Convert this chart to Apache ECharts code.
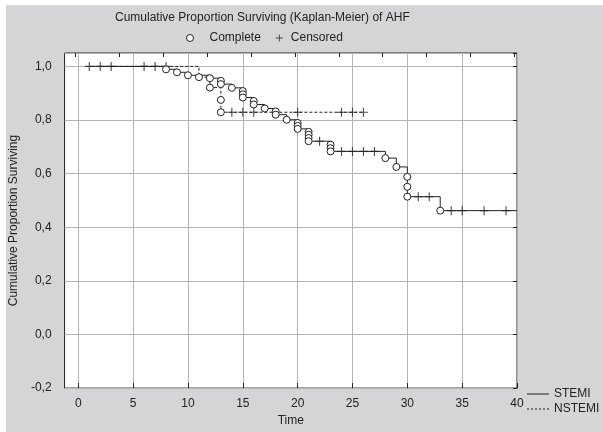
<!DOCTYPE html>
<html>
<head>
<meta charset="utf-8">
<script src="https://cdn.jsdelivr.net/npm/echarts@6/dist/echarts.min.js"></script>
<style>
html, body { margin: 0; padding: 0; background: #fff; }
#main { width: 603px; height: 432px; }
</style>
</head>
<body>
<div id="main"></div>
<script>
// flag: 0 = complete (death), 1 = censored, 2 = end of follow-up (no mark)
var stemiTime = [1, 3, 6, 7, 8, 9, 10, 12, 13, 13, 14, 15, 15, 15, 16, 16, 17, 18, 18, 19,
    20, 20, 20, 21, 21, 21, 21, 22, 23, 23, 23, 24, 25, 26, 27, 28, 29, 30, 30, 30,
    31, 32, 33, 34, 35, 37, 39, 40];
var stemiSurv = [1, 1, 1, 1, 0.989, 0.978, 0.967, 0.956, 0.946, 0.934, 0.920, 0.908, 0.896, 0.884, 0.871, 0.858, 0.843, 0.832, 0.820, 0.801,
    0.789, 0.778, 0.767, 0.756, 0.745, 0.733, 0.721, 0.721, 0.708, 0.695, 0.683, 0.683, 0.683, 0.683, 0.683, 0.658, 0.625, 0.588, 0.551, 0.514,
    0.514, 0.514, 0.462, 0.462, 0.462, 0.462, 0.462, 0.462];
var stemiFlag = [1, 1, 1, 1, 0, 0, 0, 0, 0, 0, 0, 0, 0, 0, 0, 0, 0, 0, 0, 0,
    0, 0, 0, 0, 0, 0, 0, 1, 0, 0, 0, 1, 1, 1, 1, 0, 0, 0, 0, 0,
    1, 1, 0, 1, 1, 1, 1, 2];

var nstemiTime = [2, 8, 11, 12, 13, 13, 14, 15, 16, 20, 24, 25, 26];
var nstemiSurv = [1, 1, 0.960, 0.921, 0.875, 0.829, 0.829, 0.829, 0.829, 0.829, 0.829, 0.829, 0.829];
var nstemiFlag = [1, 1, 0, 0, 0, 0, 1, 1, 1, 1, 1, 1, 1];

var timeTicks = [0, 5, 10, 15, 20, 25, 30, 35, 40];
var topTicks = [-0.25, 3.75, 7.75, 11.75, 15.75, 19.75, 23.75, 27.75, 31.75, 35.75, 39.75];

var plusPath = 'path://M3.5,0 H4.5 V3.5 H8 V4.5 H4.5 V8 H3.5 V4.5 H0 V3.5 H3.5 Z';
var solidIcon = 'path://M0,0 H22 V1 H0 Z';
var dashIcon = 'path://M0,0 H2 V1 H0 Z M4,0 H6 V1 H4 Z M8,0 H10 V1 H8 Z M12,0 H14 V1 H12 Z M16,0 H18 V1 H16 Z M20,0 H22 V1 H20 Z';
var ink = '#222';
var fontFam = '"Liberation Sans", Arial, sans-serif';

function linePts(t, s) {
    var out = [];
    for (var i = 0; i < t.length; i++) out.push([t[i], s[i]]);
    return out;
}
function marks(code) {
    var out = [];
    [[stemiTime, stemiSurv, stemiFlag], [nstemiTime, nstemiSurv, nstemiFlag]].forEach(function (g) {
        for (var i = 0; i < g[0].length; i++) {
            if (g[2][i] == code) out.push([g[0][i], g[1][i]]);
        }
    });
    return out;
}

var myChart = echarts.init(document.getElementById('main'));
myChart.setOption({
    backgroundColor: '#d5d5d7',
    animation: false,
    textStyle: { fontFamily: fontFam },
    title: {
        text: 'Cumulative Proportion Surviving (Kaplan-Meier) of AHF',
        left: 115,
        top: 12,
        padding: 0,
        textStyle: { fontSize: 12, fontWeight: 'normal', color: ink, fontFamily: fontFam }
    },
    graphic: [
        { type: 'rect', shape: { x: 0, y: 0, width: 6, height: 432 }, style: { fill: '#fff' }, silent: true },
        { type: 'rect', shape: { x: 0, y: 0, width: 603, height: 5 }, style: { fill: '#fff' }, silent: true }
    ],
    legend: [{
        left: 186,
        top: 32,
        padding: 0,
        itemGap: 15,
        itemWidth: 7,
        itemHeight: 7,
        textStyle: { fontSize: 12, color: ink, fontFamily: fontFam },
        data: [
            { name: 'Complete', icon: 'circle', itemStyle: { color: '#fff', borderColor: ink, borderWidth: 1 }, textStyle: { padding: [0, 0, 0, 11] } },
            { name: 'Censored', icon: plusPath, itemStyle: { color: ink, borderWidth: 0 }, textStyle: { padding: [0, 0, 0, 3] } }
        ]
    }, {
        orient: 'vertical',
        left: 527,
        top: 388,
        itemGap: 3,
        itemWidth: 22,
        itemHeight: 1,
        padding: 0,
        textStyle: { fontSize: 12, color: ink, fontFamily: fontFam },
        data: [
            { name: 'STEMI', icon: solidIcon, itemStyle: { color: ink, borderWidth: 0 } },
            { name: 'NSTEMI', icon: dashIcon, itemStyle: { color: ink, borderWidth: 0 } }
        ]
    }],
    grid: {
        left: 61,
        right: 86,
        top: 53,
        bottom: 41,
        show: true,
        backgroundColor: '#fff',
        borderColor: ink,
        borderWidth: 1
    },
    xAxis: [{
        type: 'value',
        min: -1.25,
        max: 40,
        name: 'Time',
        nameLocation: 'middle',
        nameGap: 25,
        nameTextStyle: { fontSize: 12, color: ink, fontFamily: fontFam },
        axisLine: { show: false, onZero: false },
        axisTick: { show: true, inside: true, length: 5, customValues: timeTicks, lineStyle: { color: ink } },
        axisLabel: { customValues: timeTicks, margin: 10, fontSize: 12, color: ink, fontFamily: fontFam },
        splitLine: { show: true, lineStyle: { color: '#b4b4b4', width: 1 } }
    }, {
        type: 'value',
        position: 'top',
        min: -1.25,
        max: 40,
        axisLine: { show: false, onZero: false },
        axisTick: { show: true, inside: true, length: 4, customValues: topTicks, lineStyle: { color: ink } },
        axisLabel: { show: false },
        splitLine: { show: false }
    }],
    yAxis: [{
        type: 'value',
        min: -0.2,
        max: 1.05,
        interval: 0.2,
        name: 'Cumulative Proportion Surviving',
        nameLocation: 'middle',
        nameGap: 36,
        nameTextStyle: { fontSize: 12, color: ink, fontFamily: fontFam },
        axisLine: { show: false, onZero: false },
        axisTick: { show: false },
        axisLabel: {
            margin: 13,
            fontSize: 12,
            color: ink,
            fontFamily: fontFam,
            showMaxLabel: false,
            formatter: function (v) { return v.toFixed(1).replace('.', ','); }
        },
        splitLine: { show: true, lineStyle: { color: '#b4b4b4', width: 1 } }
    }, {
        type: 'value',
        position: 'right',
        min: -0.2,
        max: 1.05,
        interval: 0.2,
        axisLine: { show: false, onZero: false },
        axisTick: { show: true, inside: true, length: 4, lineStyle: { color: ink } },
        axisLabel: { show: false },
        splitLine: { show: false }
    }],
    series: [{
        name: 'NSTEMI',
        type: 'line',
        step: 'end',
        symbol: 'none',
        z: 2,
        data: linePts(nstemiTime, nstemiSurv),
        itemStyle: { color: ink },
        lineStyle: { color: ink, width: 1, type: [3, 2] }
    }, {
        name: 'STEMI',
        type: 'line',
        step: 'end',
        symbol: 'none',
        z: 3,
        data: linePts(stemiTime, stemiSurv),
        itemStyle: { color: ink },
        lineStyle: { color: ink, width: 1 }
    }, {
        name: 'Censored',
        type: 'scatter',
        symbol: plusPath,
        symbolSize: 9,
        z: 4,
        data: marks(1),
        itemStyle: { color: ink }
    }, {
        name: 'Complete',
        type: 'scatter',
        symbol: 'circle',
        symbolSize: 7,
        z: 5,
        data: marks(0),
        itemStyle: { color: '#fff', borderColor: ink, borderWidth: 1, opacity: 1 }
    }]
});
</script>
</body>
</html>
